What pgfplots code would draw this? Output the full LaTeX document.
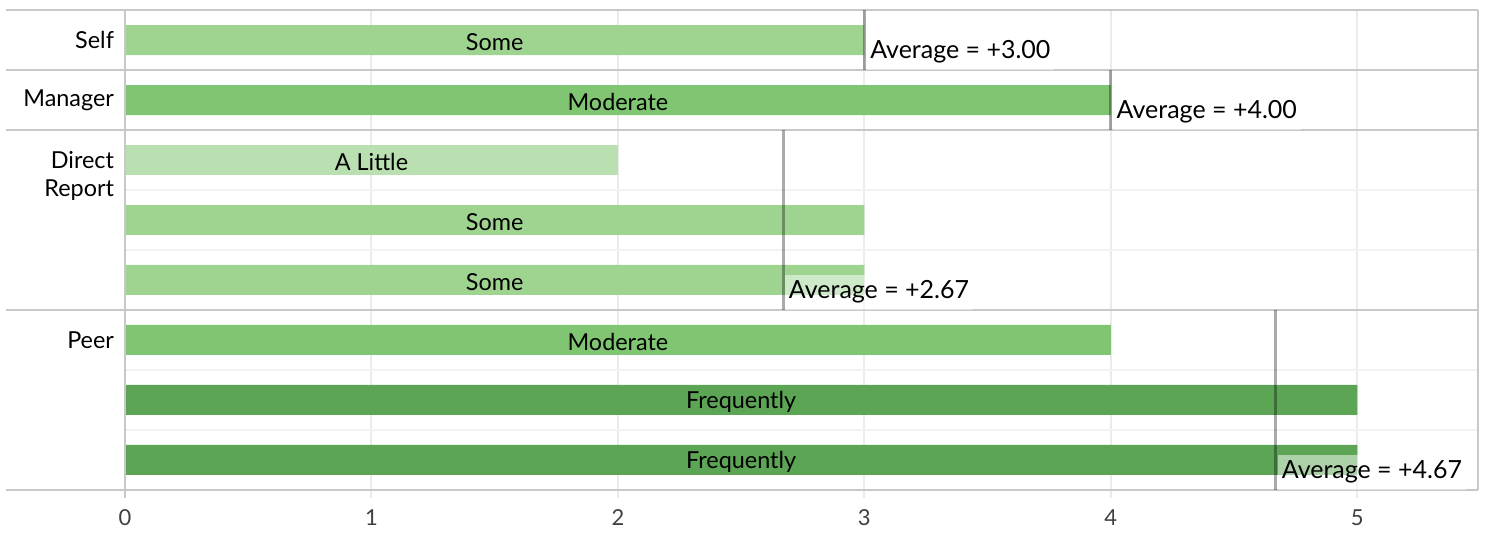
\documentclass[border=0pt]{standalone}
\usepackage{fontspec}
\setmainfont{Lato}
\usepackage{pgfplots}
\pgfplotsset{compat=1.18}
\definecolor{cLittle}{HTML}{BADFB0}
\definecolor{cSome}{HTML}{9ED48F}
\definecolor{cModerate}{HTML}{80C572}
\definecolor{cFreq}{HTML}{5BA555}
\definecolor{sepgray}{HTML}{C8C8C8}
\definecolor{gridgray}{HTML}{EBEBEB}
\definecolor{subgray}{HTML}{F2F2F2}
\begin{document}
\begin{tikzpicture}[font=\fontsize{11.7pt}{13pt}\selectfont,
  avglabel/.style={anchor=south west, fill=white, fill opacity=0.5, text opacity=1,
    inner xsep=2pt, inner ysep=2.5pt, text height=9.5pt, text depth=3pt,
    font=\fontsize{12.5pt}{14pt}\selectfont, xshift=0.75pt},
  rowlabel/.style={anchor=east, text=black}]
\begin{axis}[
  scale only axis, width=676.5pt, height=240pt,
  xmin=0, xmax=5.49, ymin=0, ymax=8, y dir=reverse,
  axis line style={draw=none},
  xtick={0,1,2,3,4,5}, ytick=\empty,
  xmajorgrids, grid style={gridgray, line width=1pt},
  tick align=outside, xtick pos=bottom, major tick length=4pt,
  tick style={gridgray, line width=1pt},
  xticklabel style={font=\fontsize{11pt}{12pt}\selectfont, text=black!75, yshift=-2.5pt},
  /pgf/number format/assume math mode=true,
  clip=false,
  bar/.style={xbar, bar width=0.5, bar shift=0pt, draw=none},
  avgline/.style={black, opacity=0.33, line width=1.5pt, forget plot},
]
% sub-row lines
\draw[subgray, line width=1pt] (axis cs:0,3) -- (axis cs:5.49,3);
\draw[subgray, line width=1pt] (axis cs:0,4) -- (axis cs:5.49,4);
\draw[subgray, line width=1pt] (axis cs:0,6) -- (axis cs:5.49,6);
\draw[subgray, line width=1pt] (axis cs:0,7) -- (axis cs:5.49,7);
% bars
\addplot[bar, fill=cLittle] coordinates {(2,2.5)};
\addplot[bar, fill=cSome] coordinates {(3,0.5) (3,3.5) (3,4.5)};
\addplot[bar, fill=cModerate] coordinates {(4,1.5) (4,5.5)};
\addplot[bar, fill=cFreq] coordinates {(5,6.5) (5,7.5)};
% bar labels
\addplot[only marks, mark=none, nodes near coords, point meta=explicit symbolic,
  nodes near coords style={anchor=center, text=black, yshift=-1pt, font=\fontsize{11.7pt}{13pt}\selectfont}]
  coordinates {(1.5,0.5) [Some] (2,1.5) [Moderate] (1,2.5) [A Little] (1.5,3.5) [Some]
  (1.5,4.5) [Some] (2,5.5) [Moderate] (2.5,6.5) [Frequently] (2.5,7.5) [Frequently]};
% separators
\draw[sepgray, line width=1pt] ([xshift=-59.5pt]axis cs:0,0) -- (axis cs:5.49,0);
\draw[sepgray, line width=1pt] ([xshift=-59.5pt]axis cs:0,1) -- (axis cs:5.49,1);
\draw[sepgray, line width=1pt] ([xshift=-59.5pt]axis cs:0,2) -- (axis cs:5.49,2);
\draw[sepgray, line width=1pt] ([xshift=-59.5pt]axis cs:0,5) -- (axis cs:5.49,5);
\draw[sepgray, line width=1pt] ([xshift=-59.5pt]axis cs:0,8) -- (axis cs:5.49,8);
\draw[sepgray, line width=1pt] (axis cs:5.49,0) -- (axis cs:5.49,8);
\draw[sepgray, line width=1pt] (axis cs:0,0) -- ([yshift=-4pt]axis cs:0,8);
% averages
\addplot[avgline] coordinates {(3,0) (3,1)};
\addplot[avgline] coordinates {(4,1) (4,2)};
\addplot[avgline] coordinates {(2.67,2) (2.67,5)};
\addplot[avgline] coordinates {(4.67,5) (4.67,8)};
\node[avglabel] at (axis cs:3,1) {Average = +3.00};
\node[avglabel] at (axis cs:4,2) {Average = +4.00};
\node[avglabel] at (axis cs:2.67,5) {Average = +2.67};
\node[avglabel] at (axis cs:4.67,8) {Average = +4.67};
% row labels
\node[rowlabel] at ([xshift=-2pt]axis cs:0,0.5) {Self};
\node[rowlabel] at ([xshift=-2pt]axis cs:0,1.5) {Manager};
\node[rowlabel] at ([xshift=-2pt]axis cs:0,2.5) {Direct};
\node[rowlabel] at ([xshift=-2pt]axis cs:0,3.0) {Report};
\node[rowlabel] at ([xshift=-2pt]axis cs:0,5.5) {Peer};
\end{axis}
\path ([xshift=-62.5pt,yshift=-19.5pt]current axis.south west) rectangle ([xshift=7.5pt,yshift=5pt]current axis.north east);
\end{tikzpicture}
\end{document}
